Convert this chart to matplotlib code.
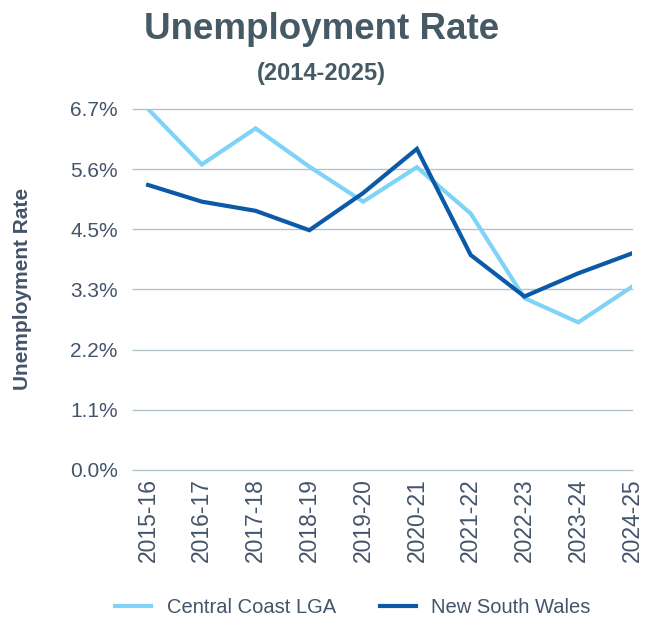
import matplotlib

matplotlib.use("Agg")
import matplotlib.pyplot as plt

plt.rcParams["font.family"] = ["Liberation Sans", "DejaVu Sans"]

years = ["2015-16", "2016-17", "2017-18", "2018-19", "2019-20",
         "2020-21", "2021-22", "2022-23", "2023-24", "2024-25"]
central_coast = [6.70, 5.67, 6.34, 5.63, 4.98, 5.62, 4.76, 3.19, 2.74, 3.40]
nsw = [5.29, 4.98, 4.81, 4.45, 5.14, 5.96, 3.99, 3.22, 3.65, 4.02]
ytick_vals = [0.0, 6.7 / 6, 6.7 / 3, 3.35, 6.7 * 2 / 3, 6.7 * 5 / 6, 6.7]
ytick_labels = ["0.0%", "1.1%", "2.2%", "3.3%", "4.5%", "5.6%", "6.7%"]

TXT = "#44546a"
GRID = "#b0c4cc"

fig = plt.figure(figsize=(6.5, 6.21), dpi=100)
ax = fig.add_axes([0.2046, 0.2432, 0.7677, 0.5813])

x = list(range(len(years)))
ax.plot(x, central_coast, color="#7fd3f7", lw=3, label="Central Coast LGA",
        solid_joinstyle="miter")
ax.plot(x, nsw, color="#0b5aa8", lw=3, label="New South Wales",
        solid_joinstyle="miter")

ax.set_xlim(-0.28, len(years) - 1)
ax.set_ylim(0, 6.7)
ax.set_yticks(ytick_vals)
ax.set_yticklabels(ytick_labels)
ax.set_xticks(x)
ax.set_xticklabels(years, rotation=90)
ax.tick_params(axis="both", length=0, labelcolor=TXT)
ax.tick_params(axis="y", pad=11, labelsize=15)
ax.tick_params(axis="x", pad=6, labelsize=16.5)
for s in ax.spines.values():
    s.set_visible(False)
ax.grid(axis="y", color=GRID, lw=1)
for gl in ax.get_ygridlines():
    gl.set_clip_on(False)
ax.set_axisbelow(True)

fig.text(0.494, 0.952, "Unemployment Rate", ha="center", va="center",
         fontsize=26.5, fontweight="bold", color="#455a64")
fig.text(0.494, 0.882, "(2014-2025)", ha="center", va="center",
         fontsize=17, fontweight="bold", color="#455a64")
fig.text(0.035, 0.535, "Unemployment Rate", ha="center", va="center",
         rotation=90, fontsize=15, fontweight="bold", color=TXT)

fig.legend(loc="center", bbox_to_anchor=(0.543, 0.021), ncol=2, frameon=False,
           fontsize=14.5, labelcolor=TXT, handlelength=1.8,
           handletextpad=0.75, columnspacing=2.2)

fig.savefig("out.png", dpi=100)
